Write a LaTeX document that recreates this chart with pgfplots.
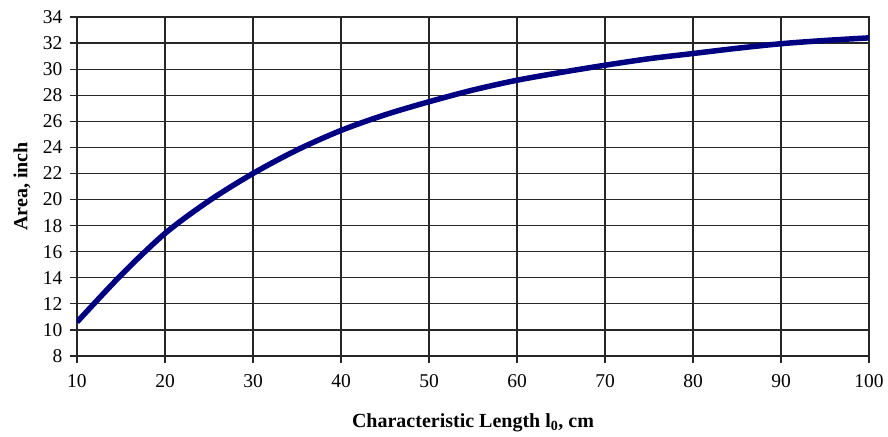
\documentclass[border=0pt]{standalone}
\usepackage{fontspec}
\setmainfont{Liberation Serif}
\usepackage{pgfplots}
\pgfplotsset{compat=1.18}
\definecolor{curve}{RGB}{0,0,128}
\begin{document}
\begin{tikzpicture}
\path (-77pt,-80pt) rectangle (811pt,356pt);
\begin{axis}[
  at={(0pt,0pt)}, anchor=south west,
  width=792pt, height=339pt, scale only axis,
  xmin=10, xmax=100, ymin=8, ymax=34,
  xtick={10,20,...,100}, ytick={8,10,...,34},
  grid=major,
  major grid style={black!85, line width=1.3pt},
  axis line style={black!85, line width=1.3pt},
  tick style={black!85, line width=1.3pt},
  tick align=outside, major tick length=7pt,
  xtick pos=bottom, ytick pos=left,
  /pgf/number format/assume math mode=true,
  ticklabel style={font=\fontsize{19.5}{22}\selectfont},
  xticklabel style={yshift=-8pt},
  yticklabel style={xshift=-4pt},
  xlabel={\textbf{Characteristic Length l\textsubscript{0}, cm}},
  ylabel={\textbf{Area, inch}},
  label style={font=\fontsize{20}{24}\selectfont},
  xlabel style={at={(axis description cs:0.5,0)}, anchor=center, yshift=-67pt},
  ylabel style={at={(axis description cs:-0.0694,0.5)}, anchor=center, rotate=0},
]
\addplot[curve, line width=5.5pt, smooth, tension=0.5] coordinates {
(10,10.6) (15,14.2) (20,17.4) (25,19.9) (30,22.0) (35,23.8) (40,25.3)
(45,26.5) (50,27.5) (55,28.4) (60,29.15) (65,29.75) (70,30.3) (75,30.8) (80,31.2)
(85,31.6) (90,31.95) (95,32.2) (100,32.4)
};
\end{axis}
\end{tikzpicture}
\end{document}
